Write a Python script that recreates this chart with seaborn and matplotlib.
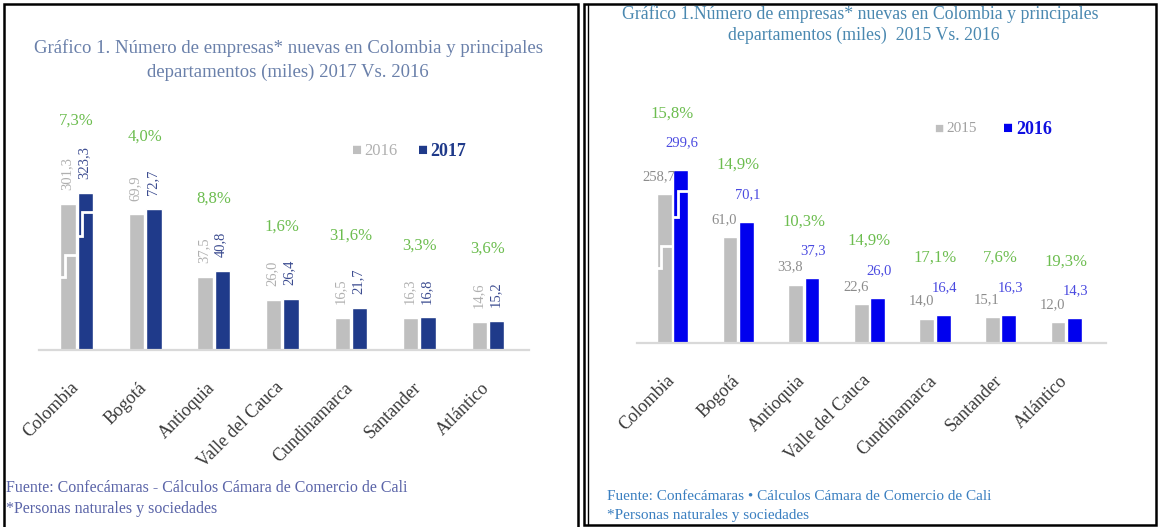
import numpy as np
import pandas as pd
import matplotlib
matplotlib.use("Agg")
import matplotlib.pyplot as plt
import seaborn as sns
from matplotlib.patches import Rectangle
from matplotlib.lines import Line2D
from matplotlib.transforms import ScaledTranslation

# ---------------- data ----------------
departments = ["Colombia", "Bogotá", "Antioquia", "Valle del Cauca",
               "Cundinamarca", "Santander", "Atlántico"]

left_years = ["2016", "2017"]
left_2016 = [301.3, 69.9, 37.5, 26.0, 16.5, 16.3, 14.6]
left_2017 = [323.3, 72.7, 40.8, 26.4, 21.7, 16.8, 15.2]
left_growth = ["7,3%", "4,0%", "8,8%", "1,6%", "31,6%", "3,3%", "3,6%"]

right_years = ["2015", "2016"]
right_2015 = [258.7, 61.0, 33.8, 22.6, 14.0, 15.1, 12.0]
right_2016 = [299.6, 70.1, 37.3, 26.0, 16.4, 16.3, 14.3]
right_growth = ["15,8%", "14,9%", "10,3%", "14,9%", "17,1%", "7,6%", "19,3%"]

left_title = ("Gráfico 1. Número de empresas* nuevas en Colombia y principales\n"
              "departamentos (miles) 2017 Vs. 2016")
right_title_1 = "Gráfico 1.Número de empresas* nuevas en Colombia y principales"
right_title_2 = "departamentos (miles)  2015 Vs. 2016"
left_source = "Fuente: Confecámaras - Cálculos Cámara de Comercio de Cali"
right_source = "Fuente: Confecámaras • Cálculos Cámara de Comercio de Cali"
note = "*Personas naturales y sociedades"

# Colombia bars are shown on a compressed (broken) axis in the reference
left_colombia_divisor = 4
right_colombia_divisor = 3

# ---------------- style ----------------
sns.set_theme(style="white")
SERIF = ["Liberation Serif", "DejaVu Sans"]
plt.rcParams["font.family"] = SERIF

W, H = 1160, 527
fig = plt.figure(figsize=(W / 100, H / 100), dpi=100)
fig.patch.set_facecolor("white")


def px(x, y):
    return x / W, 1 - y / H


def draw_panel(rect, years, a_vals, b_vals, growth, divisor, colors,
               label_colors, ymax, vertical_labels, pct_offset):
    ax = fig.add_axes(rect)
    df = pd.DataFrame({
        "dept": departments * 2,
        "year": [years[0]] * len(departments) + [years[1]] * len(departments),
        "value": a_vals + b_vals,
    })
    df["shown"] = np.where(df["dept"] == departments[0],
                           df["value"] / divisor, df["value"])
    sns.barplot(data=df, x="dept", y="shown", hue="year", palette=colors,
                width=0.5, gap=0.1, saturation=1, legend=False, ax=ax)
    ax.set_xlim(-0.55, 6.6)
    ax.set_ylim(0, ymax)
    ax.set_xlabel("")
    ax.set_ylabel("")
    ax.set_yticks([])
    for s in ["top", "left", "right"]:
        ax.spines[s].set_visible(False)
    ax.spines["bottom"].set_color("#d9d9d9")
    ax.spines["bottom"].set_linewidth(1.6)
    ax.set_facecolor("white")
    ax.tick_params(axis="x", length=0, pad=21)
    ax.set_xticks(range(len(departments)))
    ax.set_xticklabels(departments, rotation=45, ha="right",
                       rotation_mode="anchor", fontsize=13, color="#3a3a3a")
    shift = ScaledTranslation(-7 / 100, 0, fig.dpi_scale_trans)
    for lab in ax.get_xticklabels():
        lab.set_transform(lab.get_transform() + shift)

    series_vals = [a_vals, b_vals]
    for k, cont in enumerate(ax.containers):
        for i, bar in enumerate(cont):
            cx = bar.get_x() + bar.get_width() / 2
            top = bar.get_height()
            txt = f"{series_vals[k][i]:.1f}".replace(".", ",")
            if vertical_labels:
                ax.annotate(txt, (cx, top), xytext=(-1, 10),
                            textcoords="offset points", rotation=90,
                            ha="center", va="bottom", fontsize=10.5,
                            color=label_colors[k])
            else:
                dx, dy = (-4, 8) if k == 0 else (1, 15)
                ax.annotate(txt, (cx, top), xytext=(dx, dy),
                            textcoords="offset points", ha="center",
                            va="bottom", fontsize=10.5, color=label_colors[k])
        # broken-axis marks on the Colombia bars
        bar = cont[0]
        x0, w, h = bar.get_x(), bar.get_width(), bar.get_height()
        lo, hi = (0.5, 0.65) if k == 0 else (0.73, 0.88)
        ax.plot([x0, x0 + 0.3 * w, x0 + 0.3 * w, x0 + w],
                [lo * h, lo * h, hi * h, hi * h], color="white", lw=2,
                solid_joinstyle="miter")

    for i, bar in enumerate(ax.containers[1]):
        ax.annotate(growth[i], (i, bar.get_height()), xytext=(0, pct_offset),
                    textcoords="offset points", ha="center", va="center",
                    fontsize=12, color="#6cbd4f")
    return ax


# left panel (2016 vs 2017)
draw_panel([39 / W, (H - 350) / H, 490 / W, 240 / H], left_years,
           left_2016, left_2017, left_growth, left_colombia_divisor,
           ["#bfbfbf", "#1f3a8a"], ["#b0b0b0", "#3c4c90"],
           240 / 1.94, True, 52)

# right panel (2015 vs 2016)
draw_panel([636.5 / W, (H - 343) / H, 469 / W, 243 / H], right_years,
           right_2015, right_2016, right_growth, right_colombia_divisor,
           ["#bfbfbf", "#0000ee"], ["#8c8c8c", "#4a4ae0"],
           243 / 1.73, False, 41)

# titles
fig.text(*px(288, 60), left_title, ha="center", va="center", fontsize=13.5,
         color="#6a80aa", linespacing=1.45)
fig.text(*px(622, 14), right_title_1, ha="left", va="center", fontsize=12.8,
         color="#4a88b0")
fig.text(*px(728, 35), right_title_2, ha="left", va="center", fontsize=12.8,
         color="#4a88b0")

# legends
fig.text(*px(352, 151), "■", ha="left", va="center", fontsize=12,
         color="#bfbfbf", family=SERIF)
fig.text(*px(364, 151), "2016", ha="left", va="center", fontsize=12,
         color="#b0b0b0")
fig.text(*px(418, 151), "■", ha="left", va="center", fontsize=12,
         color="#1f3a8a", family=SERIF)
fig.text(*px(430, 151), "2017", ha="left", va="center", fontsize=13,
         color="#1f3a8a", fontweight="bold")
fig.text(*px(934, 129), "■", ha="left", va="center", fontsize=11,
         color="#bfbfbf", family=SERIF)
fig.text(*px(946, 129), "2015", ha="left", va="center", fontsize=11,
         color="#a0a0a0")
fig.text(*px(1003, 129), "■", ha="left", va="center", fontsize=12,
         color="#0000ee", family=SERIF)
fig.text(*px(1016, 129), "2016", ha="left", va="center", fontsize=13,
         color="#1010e0", fontweight="bold")

# sources
fig.text(*px(6, 488), left_source, ha="left", va="center", fontsize=11.5,
         color="#5a64a8")
fig.text(*px(6, 509), note, ha="left", va="center", fontsize=11.5,
         color="#5a64a8")
fig.text(*px(607, 496), right_source, ha="left", va="center", fontsize=11,
         color="#3a7fc0")
fig.text(*px(607, 516), note, ha="left", va="center", fontsize=11,
         color="#3a7fc0")

# panel frames
fig.add_artist(Rectangle(px(4, 530), (578 - 4) / W, (530 - 4) / H,
                         transform=fig.transFigure, fill=False,
                         ec="black", lw=1.8))
fig.add_artist(Rectangle(px(584, 525), (1156 - 584) / W, (525 - 4) / H,
                         transform=fig.transFigure, fill=False,
                         ec="black", lw=1.8))
fig.add_artist(Line2D([588 / W, 588 / W], [1 - 525 / H, 1 - 4 / H],
                      transform=fig.transFigure, color="black", lw=1))

fig.savefig("out.png", dpi=100, facecolor="white")
